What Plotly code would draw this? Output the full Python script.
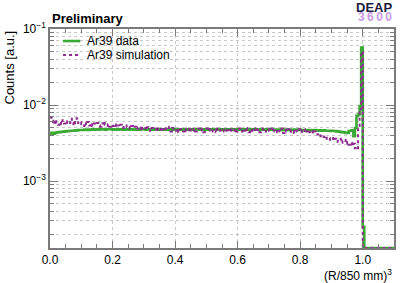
import math
import plotly.graph_objects as go

# Histogram values, in units of 1e-3 counts [a.u.], bin width 0.005 in (R/850 mm)^3
BIN_WIDTH = 0.005
X_START = 0.0

data_vals = [
    4.2, 4.3, 4.2, 4.3, 4.35, 4.4, 4.4, 4.45, 4.45, 4.5,
    4.5, 4.55, 4.55, 4.6, 4.6, 4.6, 4.65, 4.65, 4.7, 4.7,
    4.7, 4.7, 4.75, 4.75, 4.7, 4.75, 4.75, 4.8, 4.75, 4.8,
    4.8, 4.75, 4.8, 4.8, 4.8, 4.75, 4.8, 4.8, 4.8, 4.8,
    4.75, 4.8, 4.8, 4.75, 4.8, 4.8, 4.75, 4.75, 4.8, 4.8,
    4.75, 4.8, 4.8, 4.75, 4.75, 4.8, 4.8, 4.75, 4.8, 4.8,
    4.8, 4.75, 4.8, 4.8, 4.75, 4.8, 4.75, 4.8, 4.8, 4.75,
    4.8, 4.8, 4.75, 4.8, 4.75, 4.75, 4.8, 4.8, 4.75, 4.8,
    4.75, 4.8, 4.8, 4.75, 4.8, 4.75, 4.8, 4.75, 4.8, 4.8,
    4.75, 4.8, 4.75, 4.8, 4.8, 4.75, 4.8, 4.75, 4.8, 4.75,
    4.8, 4.75, 4.8, 4.75, 4.8, 4.8, 4.75, 4.8, 4.75, 4.8,
    4.75, 4.8, 4.75, 4.8, 4.75, 4.8, 4.8, 4.75, 4.8, 4.75,
    4.8, 4.75, 4.75, 4.8, 4.75, 4.8, 4.75, 4.8, 4.75, 4.75,
    4.8, 4.75, 4.8, 4.75, 4.75, 4.8, 4.75, 4.75, 4.8, 4.75,
    4.75, 4.8, 4.75, 4.75, 4.7, 4.75, 4.75, 4.7, 4.75, 4.75,
    4.7, 4.75, 4.7, 4.75, 4.7, 4.7, 4.75, 4.7, 4.7, 4.75,
    4.7, 4.7, 4.65, 4.7, 4.7, 4.65, 4.7, 4.65, 4.65, 4.7,
    4.65, 4.65, 4.6, 4.65, 4.6, 4.65, 4.6, 4.6, 4.6, 4.55,
    4.6, 4.55, 4.55, 4.5, 4.5, 4.45, 4.4, 4.4, 4.35, 4.3,
    4.3, 4.55, 4.6, 4.65, 3.9, 5.0, 7.2, 7.5, 9.7, 57.0,
    0.25, 0, 0, 0, 0, 0, 0, 0, 0, 0,
    0, 0, 0, 0, 0, 0, 0, 0, 0, 0,
]

sim_vals = [
    6.9, 6.2, 5.6, 6.4, 5.8, 5.5, 6.0, 5.6, 6.3, 5.7,
    5.5, 6.1, 5.8, 6.6, 5.9, 5.4, 6.2, 6.7, 5.8, 6.0,
    5.6, 5.3, 5.9, 5.5, 6.0, 5.4, 5.8, 5.3, 5.7, 5.5,
    5.8, 5.4, 5.2, 5.7, 6.1, 5.5, 5.3, 5.6, 5.2, 5.5,
    5.3, 5.6, 5.1, 5.4, 5.2, 5.5, 5.0, 5.3, 5.4, 5.1,
    5.2, 4.9, 5.3, 5.0, 5.2, 4.8, 5.1, 4.9, 5.3, 4.8,
    5.0, 4.7, 5.1, 4.8, 4.6, 5.0, 4.8, 4.9, 4.5, 4.9,
    4.7, 5.1, 4.8, 4.6, 4.9, 5.2, 4.7, 4.5, 5.0, 4.8,
    4.6, 4.9, 4.4, 4.8, 4.7, 4.5, 4.9, 4.6, 4.8, 4.4,
    4.8, 4.6, 4.9, 4.5, 4.7, 4.9, 4.6, 4.8, 4.4, 4.7,
    4.9, 4.6, 4.8, 4.5, 4.7, 4.8, 4.4, 4.9, 4.6, 4.7,
    4.5, 4.8, 4.6, 4.9, 4.7, 4.4, 4.8, 4.6, 4.9, 4.5,
    4.7, 4.9, 4.5, 4.8, 4.6, 5.0, 4.7, 4.4, 4.8, 4.6,
    4.9, 4.5, 4.7, 4.8, 4.4, 4.7, 4.9, 4.6, 4.5, 4.8,
    4.6, 4.9, 4.5, 4.7, 4.4, 4.8, 4.6, 4.5, 4.9, 4.3,
    4.7, 4.5, 4.8, 4.4, 4.6, 4.7, 4.3, 4.6, 4.5, 4.8,
    4.4, 4.6, 4.8, 4.3, 4.5, 4.7, 4.4, 4.6, 4.2, 4.5,
    4.3, 4.1, 4.2, 3.9, 4.0, 3.8, 3.9, 3.6, 3.7, 3.5,
    3.7, 3.4, 3.6, 3.3, 3.5, 3.6, 3.2, 3.4, 3.5, 3.1,
    3.3, 3.0, 3.2, 2.9, 3.1, 2.7, 2.6, 4.8, 8.0, 50.0,
    0, 0, 0, 0, 0, 0, 0, 0, 0, 0,
    0, 0, 0, 0, 0, 0, 0, 0, 0, 0,
]

SCALE = 1e-3
series_names = ["Ar39 data", "Ar39 simulation"]
x_tick_vals = [0.0, 0.2, 0.4, 0.6, 0.8, 1.0]
x_tick_text = ["0.0", "0.2", "0.4", "0.6", "0.8", "1.0"]
y_major = [1e-3, 1e-2, 1e-1]
y_major_text = ["10<sup>\u22123</sup>", "10<sup>\u22122</sup>", "10<sup>\u22121</sup>"]

X_RANGE = [0.0, 1.1]
Y_LOG_RANGE = [-3.88, -1.0]
y_floor = 10 ** Y_LOG_RANGE[0]

GREEN = "#3aaa35"
PURPLE = "#8c2d8c"
FONT = "Liberation Sans, Arial, sans-serif"
GRID = "#c8c8c8"
AXIS = "#7a7a7a"


def step_xy(vals):
    n = len(vals)
    xs = [X_START + i * BIN_WIDTH for i in range(n + 1)]
    ys = [max(v * SCALE, y_floor) for v in vals]
    ys = ys + [ys[-1]]
    return xs, ys


fig = go.Figure()
xd, yd = step_xy(data_vals)
xs, ys = step_xy(sim_vals)
fig.add_trace(go.Scatter(x=xd, y=yd, mode="lines", line_shape="hv",
                         line=dict(color=GREEN, width=2.6), name=series_names[0],
                         showlegend=False))
fig.add_trace(go.Scatter(x=xs, y=ys, mode="lines", line_shape="hv",
                         line=dict(color=PURPLE, width=2, dash="dot"),
                         name=series_names[1], showlegend=False))

minor_y = [k * 10 ** e for e in (-4, -3, -2) for k in range(2, 10)
           if Y_LOG_RANGE[0] <= math.log10(k * 10 ** e) <= Y_LOG_RANGE[1]]
minor_x = [i * 0.05 for i in range(0, 23)]

fig.update_xaxes(range=X_RANGE, tickvals=x_tick_vals, ticktext=x_tick_text,
                 ticks="inside", ticklen=7, tickcolor=AXIS, tickwidth=1,
                 showline=True, linecolor=AXIS, linewidth=1.5, mirror="allticks",
                 showgrid=True, gridcolor=GRID, griddash="dot", gridwidth=1,
                 zeroline=False,
                 tickfont=dict(family=FONT, size=12, color="#000"),
                 minor=dict(tickvals=minor_x, ticks="inside", ticklen=4,
                            tickcolor=AXIS, showgrid=False))
fig.update_yaxes(type="log", range=Y_LOG_RANGE, tickvals=y_major, ticktext=y_major_text,
                 ticks="inside", ticklen=8, tickcolor=AXIS, tickwidth=1,
                 showline=True, linecolor=AXIS, linewidth=1.5, mirror="allticks",
                 showgrid=True, gridcolor=GRID, griddash="dot", gridwidth=1,
                 zeroline=False,
                 tickfont=dict(family=FONT, size=12, color="#000"),
                 minor=dict(tickvals=minor_y, ticks="inside", ticklen=4,
                            tickcolor=AXIS, showgrid=True, gridcolor=GRID,
                            griddash="dot", gridwidth=1))

# manual legend (paper coordinates)
legend_rows = [0.945, 0.881]
legend_styles = [dict(color=GREEN, width=2.6), dict(color=PURPLE, width=2, dash="dot")]
shapes = []
annotations = []
for name, yy, st in zip(series_names, legend_rows, legend_styles):
    shapes.append(dict(type="line", xref="paper", yref="paper",
                       x0=0.038, x1=0.088, y0=yy, y1=yy, line=st))
    annotations.append(dict(text=name, xref="paper", yref="paper", x=0.102, y=yy,
                            xanchor="left", yanchor="middle", showarrow=False,
                            font=dict(family=FONT, size=12, color="#000")))

annotations += [
    dict(text="Preliminary", xref="paper", yref="paper", x=0, y=1.0,
         xanchor="left", yanchor="bottom", yshift=1, showarrow=False,
         font=dict(family=FONT, size=13, color="#000", weight="bold")),
    dict(text="DEAP", xref="paper", yref="paper", x=1.0, y=1.0,
         xanchor="right", yanchor="bottom", yshift=12, showarrow=False,
         font=dict(family=FONT, size=13, color="#1c1c3c", weight="bold")),
    dict(text="3\u20096\u20090\u20090", xref="paper", yref="paper", x=1.0, y=1.0,
         xanchor="right", yanchor="bottom", yshift=3, showarrow=False,
         font=dict(family=FONT, size=12, color="#c79be6", weight="bold")),
    dict(text="Counts [a.u.]", xref="paper", yref="paper", x=0, y=1.0,
         xanchor="right", yanchor="top", xshift=-32, textangle=-90,
         showarrow=False, font=dict(family=FONT, size=13, color="#000")),
    dict(text="(R/850 mm)<sup>3</sup>", xref="paper", yref="paper", x=1.0, y=0,
         xanchor="right", yanchor="top", yshift=-17, showarrow=False,
         font=dict(family=FONT, size=12, color="#000")),
]

fig.update_layout(
    width=415, height=283,
    margin=dict(l=50, r=21, t=29, b=35),
    paper_bgcolor="white", plot_bgcolor="white",
    font=dict(family=FONT, size=12, color="#000"),
    showlegend=False,
    shapes=shapes,
    annotations=annotations,
)

fig.write_html("out.html", config={"displayModeBar": False},
               post_script="document.body.style.margin='0';document.body.style.padding='0';")
